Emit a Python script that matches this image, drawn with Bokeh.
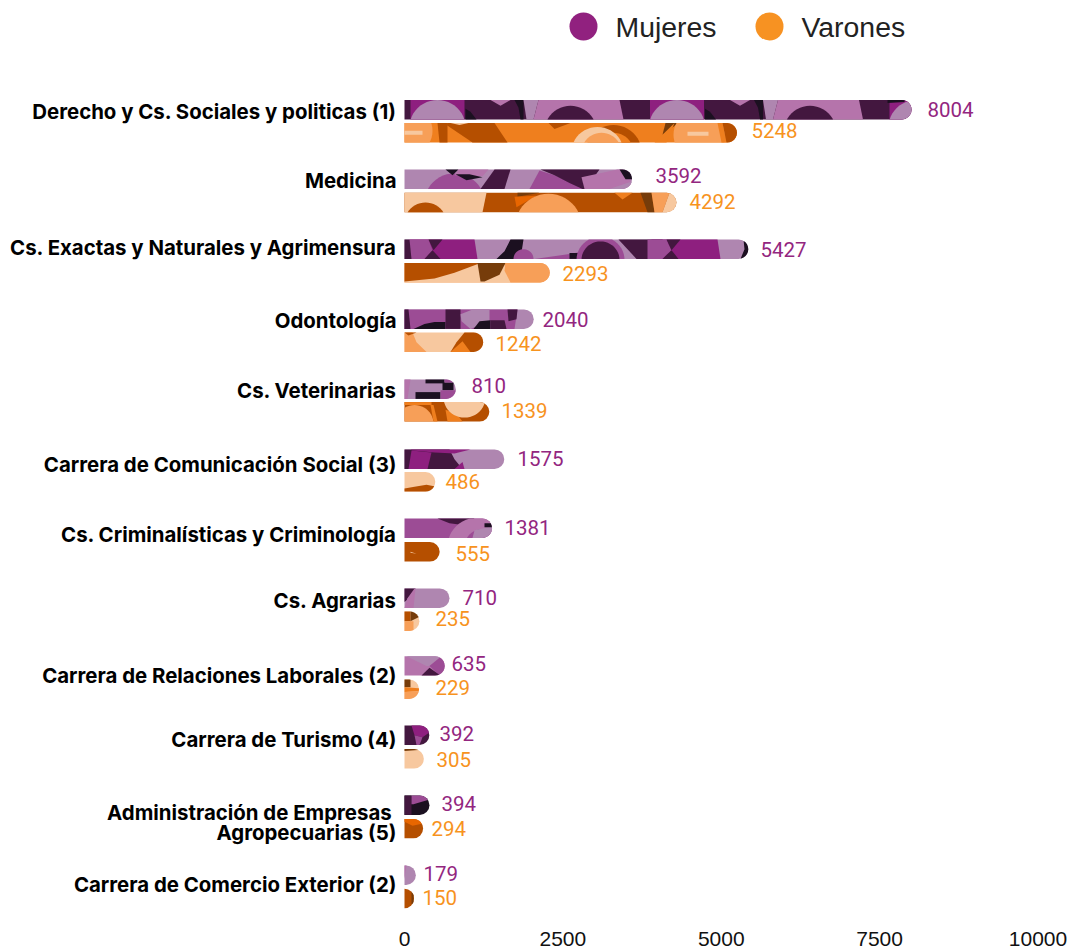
import math
from bokeh.plotting import figure
from bokeh.models import Range1d, FixedTicker, PrintfTickFormatter, LinearAxis
from bokeh.core.properties import value
from bokeh.embed import file_html
from bokeh.resources import INLINE

categories = ["Derecho y Cs. Sociales y politicas (1)", "Medicina", "Cs. Exactas y Naturales y Agrimensura",
              "Odontología", "Cs. Veterinarias", "Carrera de Comunicación Social (3)",
              "Cs. Criminalísticas y Criminología", "Cs. Agrarias", "Carrera de Relaciones Laborales (2)",
              "Carrera de Turismo (4)", "Administración de Empresas \nAgropecuarias (5)", "Carrera de Comercio Exterior (2)"]
mujeres = [8004, 3592, 5427, 2040, 810, 1575, 1381, 710, 635, 392, 394, 179]
varones = [5248, 4292, 2293, 1242, 1339, 486, 555, 235, 229, 305, 294, 150]
x_ticks = [0, 2500, 5000, 7500, 10000]
legend_labels = ["Mujeres", "Varones"]

# ---- layout (page pixels) ----
W, H = 1070, 951
X0, XMAX_PX = 404, 1037.5
AXIS_Y = 920
K = (XMAX_PX - X0) / 10000
BAR_H = 19.4
M_TOP = [99.5, 169, 239, 309, 379, 449, 518, 588, 655.7, 725, 795, 865]
V_TOP = [122.6, 192.3, 262.5, 332, 401.6, 471.6, 541.6, 611, 679, 748.6, 818.4, 888.3]
CAT_Y = [111, 180, 247, 320, 390, 464, 534, 600, 675, 739, 821.5, 884]
M_LAB_LEFT = [927, 655, 760, 542, 471, 517, 504, 462, 451, 439, 441, 423]
V_LAB_LEFT = [751, 689, 562, 495, 501, 445, 455, 435, 435, 436, 431, 422]
M_LAB_Y = [109, 175, 249, 319, 385, 458, 527, 597, 663, 733, 803, 873]
V_LAB_Y = [130, 201, 273, 343, 410, 481, 553, 618, 687, 759, 828, 897]

# ---- palette ----
PLUM, BLACK, MAG, MAUVE, GREY, MID = "#43173F", "#1B1020", "#8E1F7F", "#B574AB", "#AF86B0", "#9C4C95"
DARK, ORG, PEACH, MPEACH, BROWN, VIVID = "#B54F00", "#EF7F1E", "#F7C89F", "#F79F58", "#763C0A", "#E86600"
PURPLE_TXT, ORANGE_TXT = "#93267F", "#F7931E"
PURPLE_DOT, ORANGE_DOT = "#91217F", "#F79222"


def circ(c, cx, cy, r):
    return (c, [(cx + r * math.cos(2 * math.pi * i / 48), cy + r * math.sin(2 * math.pi * i / 48)) for i in range(48)])


def shift(shapes, dx):
    return [(c, [(x + dx, y) for x, y in pts]) for c, pts in shapes]


MOTIF = [
    (MAG, [(6, 0), (60, 0), (60, 20), (6, 20)]),
    circ(GREY, 33, 28, 28),
    (BLACK, [(61, 9), (66, 12), (72, 20), (61, 20)]),
    (MAUVE, [(86, 0), (106, 0), (96, 6)]),
    (BLACK, [(110, 0), (119, 0), (119, 20), (116, 20), (114, 8)]),
    (GREY, [(119, 0), (134, 0), (129, 20), (122, 20)]),
    (MAUVE, [(134, 0), (215, 0), (219, 20), (129, 20)]),
    circ(PLUM, 166, 32, 26),
]

# Base colour of each bar, then the shapes laid over it: (colour, points) in px from the bar's start.
TEX_M = [
    (PLUM, MOTIF + shift(MOTIF, 239.5) + shift(MOTIF[:4], 479) + [(BLACK, [(483, 0), (500, 0), (500, 2), (483, 3)])]),
    (GREY, [circ(MID, 50, 34, 30),
            (BLACK, [(41, 0), (54, 0), (48, 6)]),
            (MAUVE, [(54, 0), (84, 0), (78, 7), (50, 6)]),
            (BLACK, [(51, 5), (65, 5), (78, 8), (62, 11)]),
            (PLUM, [(76, 20), (90, 0), (106, 0), (100, 20)]),
            (MID, [(125, 20), (135, 1), (150, 6), (180, 20)]),
            (PLUM, [(136, 0), (195, 0), (181, 20), (178, 20), (165, 14), (150, 6)]),
            (MAUVE, [(177, 8), (213, 0), (226, 0), (226, 20), (180, 20)]),
            (BLACK, [(215, 0), (228, 0), (228, 10), (221, 10)]),
            (GREY, [(205, 20), (228, 12), (228, 20)])]),
    (GREY, [(MAG, [(5, 0), (70, 0), (73, 20), (5, 20)]),
            (MID, [(5, 0), (24, 0), (28, 11), (20, 20), (5, 20)]),
            (PLUM, [(0, 0), (5, 0), (7, 20), (0, 20)]),
            (PLUM, [(24, 0), (38, 0), (29, 11)]), (PLUM, [(20, 20), (36, 20), (28, 11)]),
            (BLACK, [(106, 0), (119, 0), (116, 20), (92, 20), (100, 12)]),
            circ(MID, 119, 20, 10),
            (MID, [(130, 20), (165, 15), (180, 12), (180, 20)]),
            (BLACK, [(165, 14), (177, 14), (177, 20), (165, 20)]),
            circ(MID, 196, 21, 24),
            circ(PLUM, 196, 21, 19),
            (PLUM, [(214, 0), (258, 0), (262, 10), (250, 20), (232, 20)]),
            (MAG, [(247, 0), (313, 0), (316, 20), (247, 20)]),
            (MID, [(243, 0), (262, 0), (267, 11), (258, 20), (243, 20)]),
            (PLUM, [(262, 0), (276, 0), (267, 11)]), (PLUM, [(258, 20), (274, 20), (267, 11)]),
            (BLACK, [(339, 0), (346, 0), (346, 20), (336, 20), (340, 10)])]),
    (GREY, [(MID, [(0, 0), (113, 0), (110, 20), (0, 20)]),
            (PLUM, [(0, 0), (4, 0), (6, 20), (0, 20)]),
            (BLACK, [(9, 20), (20, 15), (30, 13), (41, 13), (41, 20)]),
            (PLUM, [(41, 0), (56, 0), (56, 20), (41, 20)]),
            (GREY, [(56, 5), (68, 0), (85, 0), (85, 12), (66, 20), (57, 12)]),
            (BLACK, [(69, 20), (75, 12), (86, 11), (86, 20)]),
            (PLUM, [(86, 11), (100, 11), (102, 20), (86, 20)]),
            (PLUM, [(103, 0), (113, 0), (112, 10), (104, 12)])]),
    (GREY, [(MAUVE, [(0, 0), (6, 0), (3, 20), (0, 20)]),
            (BLACK, [(21, 0), (40, 0), (40, 4), (21, 4)]),
            (BLACK, [(38, 3), (49, 3), (49, 11), (38, 11)]),
            (BLACK, [(11, 13), (36, 13), (36, 20), (11, 20)]),
            (MID, [(36, 11), (52, 11), (52, 20), (36, 20)]),
            (MID, [(40, 0), (52, 0), (52, 3), (40, 3)])]),
    (GREY, [(PLUM, [(0, 0), (45, 0), (50, 10), (58, 20), (0, 20)]),
            (MAG, [(6, 0), (66, 0), (50, 4), (30, 3), (8, 1)]),
            (MAG, [(7, 1), (27, 3), (23, 20), (4, 20)]),
            (MAG, [(50, 20), (58, 13), (60, 20)])]),
    (MID, [(PLUM, [(33, 0), (70, 0), (60, 7), (45, 5)]),
           circ(MAUVE, 73, 29, 30), circ(MID, 78, 29, 18),
           (GREY, [(70, 12), (88, 8), (88, 20), (68, 20)]),
           (BLACK, [(80, 5), (88, 5), (88, 9), (80, 9)])]),
    (GREY, [(PLUM, [(0, 0), (11, 0), (2, 12), (0, 14)]),
            (MAUVE, [(0, 20), (3, 10), (10, 0), (11, 0), (9, 20)])]),
    (MAUVE, [(GREY, [(2, 0), (37, 0), (25, 10), (22, 10)]),
             (MID, [(25, 10), (37, 0), (41, 0), (41, 20), (35, 20)]),
             (PLUM, [(17, 20), (25, 12), (36, 20)])]),
    (PLUM, [(MAG, [(7, 0), (21, 0), (25, 7), (18, 12), (10, 10)]),
            (MID, [(10, 10), (18, 12), (15, 20), (12, 20)])]),
    (BLACK, [(PLUM, [(0, 0), (7, 0), (7, 20), (0, 20)]),
             (MID, [(7, 0), (22, 0), (25, 4), (9, 9), (7, 9)])]),
    (GREY, [(MAUVE, [(0, 0), (2, 0), (0, 14)])]),
]

TEX_V = [
    (ORG, [circ(MPEACH, 2, 8, 26),
           (PEACH, [(0, 8), (18, 8), (18, 12), (0, 12)]),
           (DARK, [(33, 0), (43, 0), (43, 20), (35, 20)]),
           (DARK, [(43, 0), (90, 0), (103, 20), (68, 20), (42, 2)]),
           (PEACH, [(46, 0), (64, 0), (55, 2)]),
           (DARK, [(144, 0), (166, 0), (150, 6)]),
           circ(DARK, 209, 30, 28), circ(ORG, 209, 30, 20),
           circ(PEACH, 193, 30, 26), circ(MPEACH, 197, 30, 20),
           (BROWN, [(261, 0), (274, 0), (258, 12)]),
           circ(MPEACH, 295, 12, 26),
           (ORG, [(270, 0), (262, 20), (250, 20), (258, 12)]),
           (PEACH, [(283, 9), (304, 9), (304, 13), (283, 13)]),
           (ORG, [(313, 0), (318, 0), (322, 20), (317, 20)]),
           (DARK, [(318, 0), (340, 0), (340, 20), (322, 20)])]),
    (DARK, [(PEACH, [(0, 0), (82, 0), (78, 20), (0, 20)]),
            circ(DARK, 21, 31, 21),
            (BROWN, [(113, 0), (135, 0), (113, 4)]),
            (VIVID, [(110, 4), (132, 3), (112, 15)]),
            circ(MPEACH, 144, 34, 33),
            (ORG, [(210, 0), (228, 0), (218, 7)]),
            (BROWN, [(236, 0), (247, 0), (250, 20), (243, 20)]),
            (MPEACH, [(247, 0), (265, 0), (258, 20), (250, 20)]),
            (PEACH, [(258, 20), (265, 0), (275, 0), (275, 20)])]),
    (MPEACH, [(PEACH, [(0, 0), (100, 0), (107, 20), (0, 20)]),
              (DARK, [(0, 0), (76, 0), (50, 10), (30, 16), (0, 19)]),
              (BROWN, [(73, 0), (101, 0), (95, 12), (80, 19), (76, 19)]),
              (MPEACH, [(101, 0), (147, 0), (147, 20), (106, 20), (100, 8)])]),
    (PEACH, [(MPEACH, [(0, 0), (8, 0), (12, 10), (22, 20), (0, 20)]),
             (DARK, [(0, 0), (12, 0), (4, 3)]),
             (DARK, [(60, 0), (80, 0), (80, 20), (46, 20), (52, 10)]),
             (ORG, [(46, 20), (58, 9), (66, 20)])]),
    (DARK, [(ORG, [(0, 0), (27, 0), (27, 3), (0, 3)]),
            circ(MPEACH, 10, 22, 19),
            (ORG, [(26, 3), (29, 3), (33, 20), (29, 20)]),
            (ORG, [(41, 8), (52, 12), (58, 20), (43, 20)]),
            circ(PEACH, 60, -5, 21)]),
    (PEACH, [(DARK, [(0, 17), (10, 15), (22, 13), (32, 15), (32, 20), (0, 20)])]),
    (DARK, [(PEACH, [(6, 10), (12, 12), (6, 11)])]),
    (PEACH, [(DARK, [(0, 0), (6, 0), (6, 10), (0, 10)]),
             (MPEACH, [(0, 10), (9, 10), (9, 20), (0, 20)]),
             (BROWN, [(6, 0), (16, 0), (16, 5), (6, 10)])]),
    (PEACH, [(BROWN, [(0, 0), (6, 0), (6, 8), (0, 8)]),
             (ORG, [(0, 8), (15, 9), (15, 12), (0, 13)]),
             (MPEACH, [(0, 13), (15, 12), (15, 20), (0, 20)])]),
    (PEACH, [(BROWN, [(0, 0), (14, 0), (14, 1), (0, 2)])]),
    (DARK, [(VIVID, [(0, 0), (14, 0), (18, 5), (8, 7), (0, 3)])]),
    (DARK, [(BROWN, [(7, 2), (9, 2), (9, 16), (7, 16)])]),
]


def clip(poly, hull):
    """Sutherland-Hodgman clip of a shape to a convex bar outline (clockwise on screen)."""
    out = poly
    for i in range(len(hull)):
        a, b = hull[i], hull[(i + 1) % len(hull)]
        src, out = out, []
        def inside(p):
            return (b[0] - a[0]) * (p[1] - a[1]) - (b[1] - a[1]) * (p[0] - a[0]) >= -1e-9
        for j in range(len(src)):
            p_, q = src[j], src[(j + 1) % len(src)]
            ip, iq = inside(p_), inside(q)
            if ip != iq:
                d = (b[0] - a[0]) * (q[1] - p_[1]) - (b[1] - a[1]) * (q[0] - p_[0])
                u = -((b[0] - a[0]) * (p_[1] - a[1]) - (b[1] - a[1]) * (p_[0] - a[0])) / d
                out.append((p_[0] + u * (q[0] - p_[0]), p_[1] + u * (q[1] - p_[1])))
            if iq:
                out.append(q)
        if not out:
            return []
    return out


def outline(length):
    r = BAR_H / 2
    pts = [(0, 0)]
    for i in range(13):
        ang = -math.pi / 2 + math.pi * i / 12
        pts.append((max(length - r, 0) + r * math.cos(ang), r + r * math.sin(ang)))
    pts.append((0, BAR_H))
    return pts


p = figure(width=W, height=H, output_backend="svg", toolbar_location=None,
           x_axis_location=None, y_axis_location=None,
           x_range=Range1d(-X0 / K, (W - X0) / K), y_range=Range1d(H, 0),
           min_border_left=0, min_border_right=0, min_border_top=0, min_border_bottom=0,
           outline_line_color=None)
p.grid.visible = False
ax = LinearAxis(fixed_location=AXIS_Y, ticker=FixedTicker(ticks=x_ticks),
                formatter=PrintfTickFormatter(format="%d"))
ax.axis_line_color = None
ax.major_tick_line_color = None
ax.minor_tick_line_color = None
ax.major_label_text_font = "Liberation Sans"
ax.major_label_text_font_size = "21px"
ax.major_label_text_color = "#111111"
ax.major_label_standoff = 5
p.add_layout(ax, "below")

for vals, tops, tex in ((mujeres, M_TOP, TEX_M), (varones, V_TOP, TEX_V)):
    p.hbar(y=[t + BAR_H / 2 for t in tops], left=0, right=vals, height=BAR_H,
           fill_color=[t[0] for t in tex], line_color=None,
           border_radius=(0, 10, 10, 0))
    xs, ys, cols = [], [], []
    for v, top, (_, shapes) in zip(vals, tops, tex):
        hull = outline(v * K)
        for col, pts in shapes:
            pts = [(x, y * BAR_H / 20) for x, y in pts]
            c = clip(pts, hull)
            if len(c) >= 3:
                xs.append([x / K for x, _y in c])
                ys.append([top + y for _x, y in c])
                cols.append(col)
    p.patches(xs, ys, fill_color=cols, line_color=None)

# value labels
for vals, left, ly, col in ((mujeres, M_LAB_LEFT, M_LAB_Y, PURPLE_TXT), (varones, V_LAB_LEFT, V_LAB_Y, ORANGE_TXT)):
    p.text(x=vals, y=ly, text=[str(v) for v in vals],
           x_offset=[l - (X0 + v * K) for l, v in zip(left, vals)],
           text_color=col, text_font=value("Roboto"), text_font_size="20.5px",
           text_align="left", text_baseline="middle")

# category labels
p.text(x=[0] * len(categories), y=CAT_Y, text=categories, x_offset=-8,
       text_color="#000000", text_font=value("Inter"), text_font_size="20.4px", text_font_style="bold",
       text_align="right", text_baseline="middle", text_line_height=0.8)

# legend
LEG_DOT_X = [583, 769]
LEG_TXT_X = [615, 801]
LEG_Y = 26
p.scatter(x=[(x - X0) / K for x in LEG_DOT_X], y=[LEG_Y] * 2, size=28, marker="circle",
          fill_color=[PURPLE_DOT, ORANGE_DOT], line_color=None)
p.text(x=[(x - X0) / K for x in LEG_TXT_X], y=[LEG_Y] * 2, text=legend_labels, text_color="#222222",
       text_font=value("Liberation Sans"), text_font_size="28.4px", text_align="left", text_baseline="middle")

open("out.html", "w").write(file_html(p, INLINE))
